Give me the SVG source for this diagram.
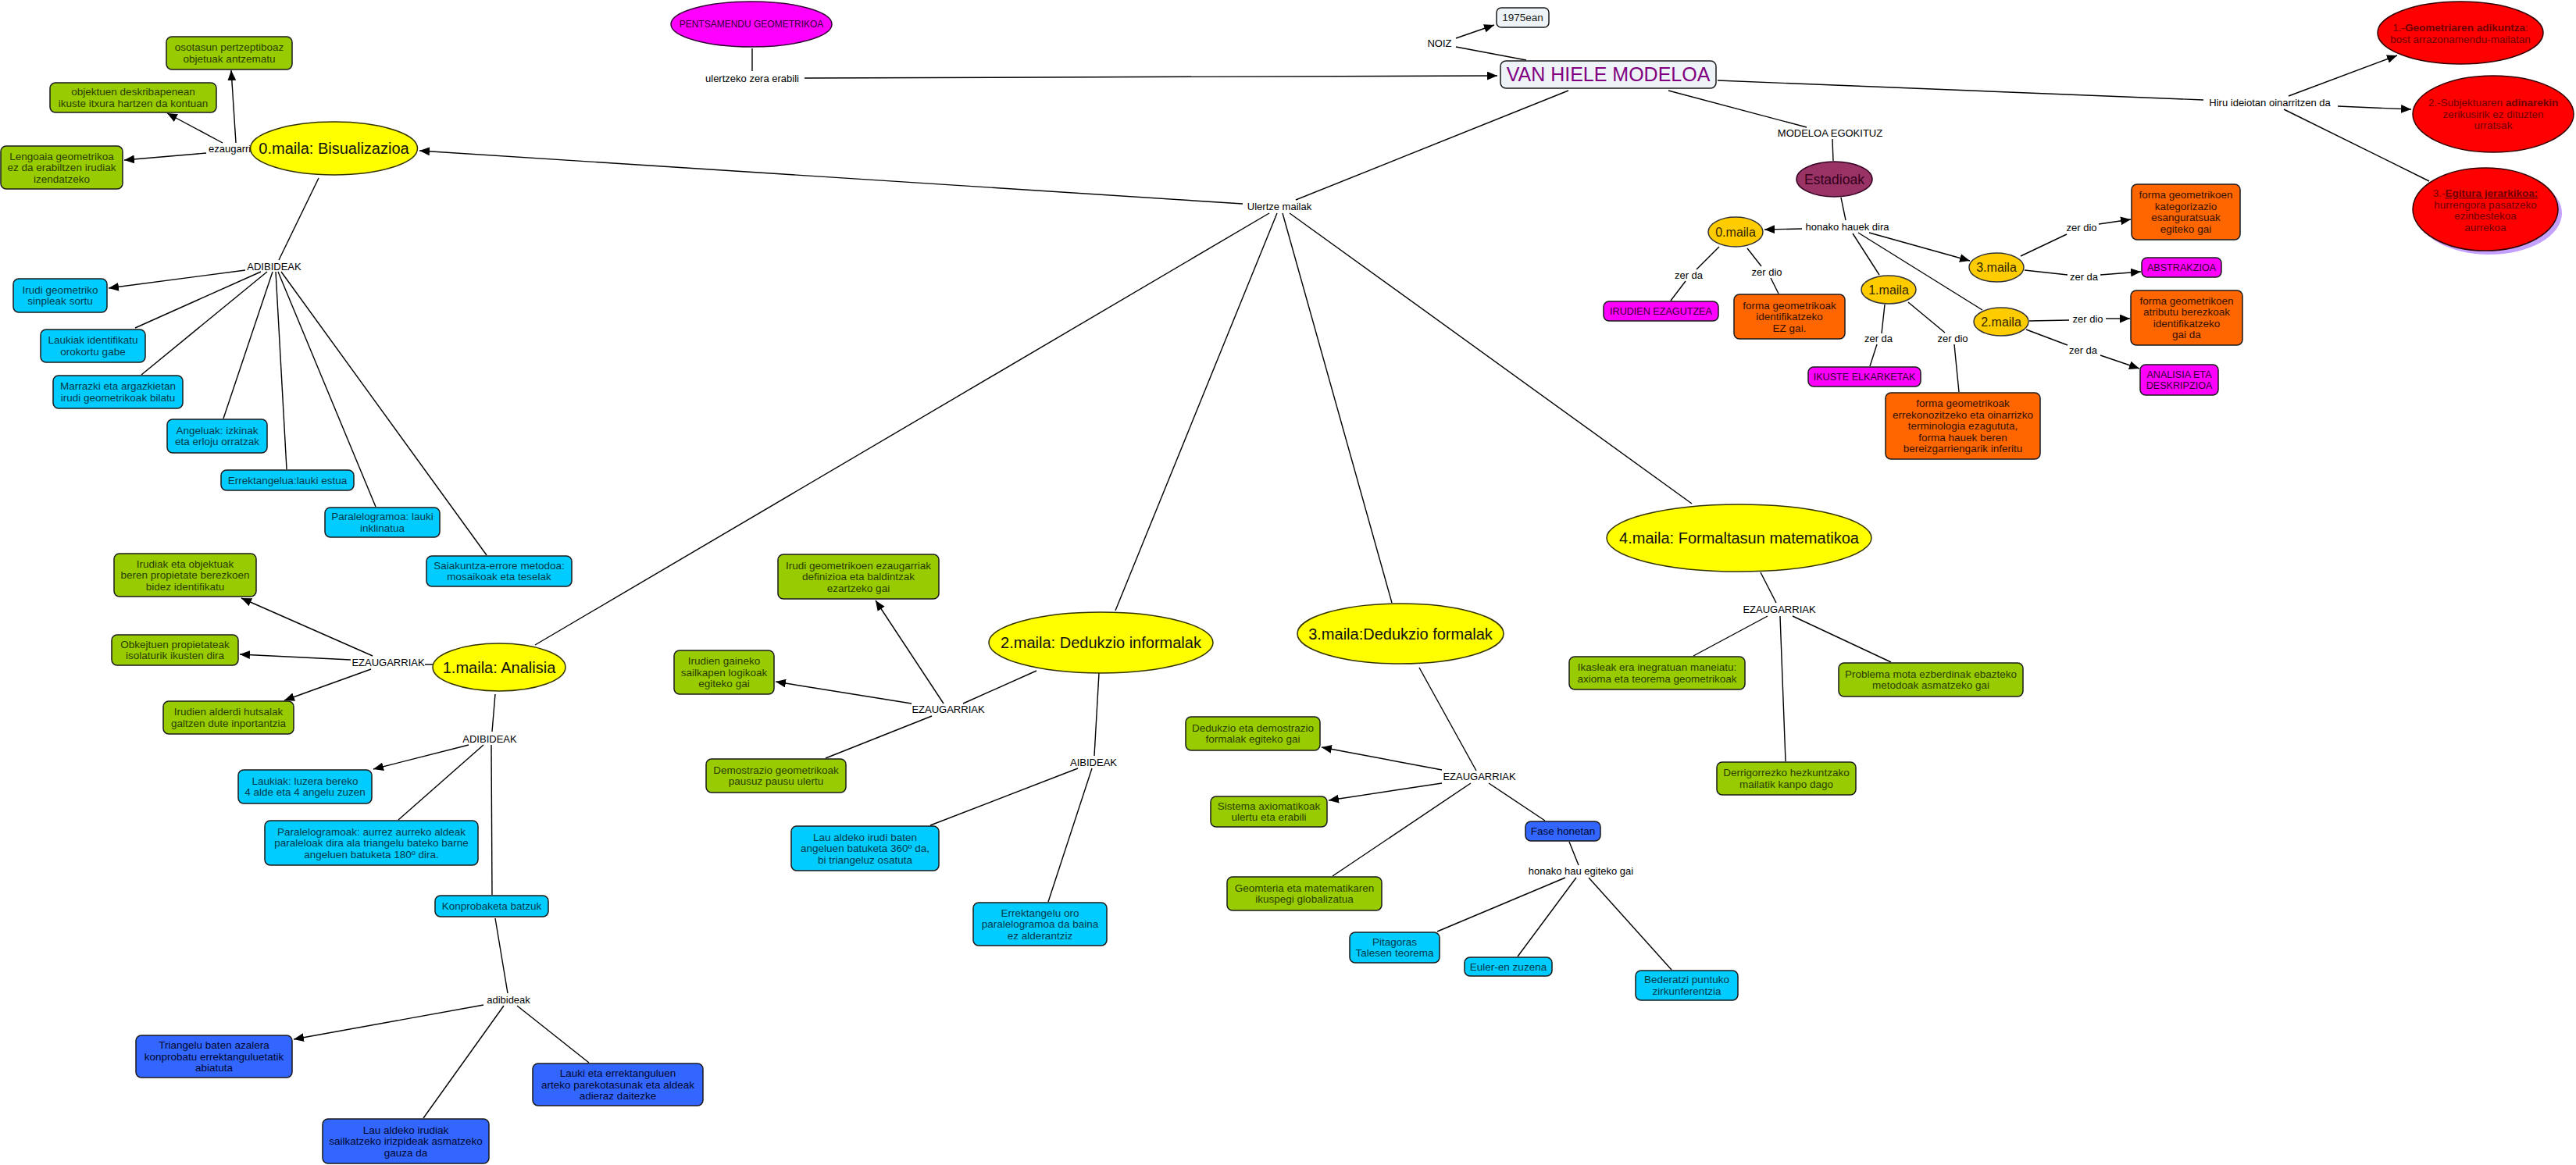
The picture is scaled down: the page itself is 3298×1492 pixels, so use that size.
<svg xmlns="http://www.w3.org/2000/svg" width="3298" height="1492" viewBox="0 0 3298 1492">
<defs>
<marker id="ah" viewBox="0 0 12 10" refX="12" refY="5" markerWidth="13" markerHeight="11" markerUnits="userSpaceOnUse" orient="auto"><path d="M0,0 L12,5 L0,10 z" fill="#000"/></marker>
<style>
text{font-family:"Liberation Sans",Arial,sans-serif;text-anchor:middle}
.cn line{stroke:#000;stroke-width:1.4;fill:none}
.cn line.a{marker-end:url(#ah)}
.lb text{font-size:13px;fill:#000}
.bx rect{rx:7;ry:7;stroke:#1a1a1a;stroke-width:1.5}
.bx text{font-size:13.5px}
.g rect{fill:#99CC00}.g text{fill:#2a3d00}
.c rect{fill:#00CCFF}.c text{fill:#003a4a}
.b rect{fill:#3366FF}.b text{fill:#00082e}
.o rect{fill:#FF6600}.o text{fill:#331100}
.m rect{fill:#FF00FF}.m text{fill:#330033;font-size:12.6px}
.y ellipse{fill:#FFFF00;stroke:#333300;stroke-width:1.5}.y text{font-size:20px;fill:#111}
.k ellipse{fill:#FFCC00;stroke:#333;stroke-width:1.5}.k text{font-size:16px;fill:#332600}
.r ellipse{fill:#FF0000;stroke:#330000;stroke-width:1.5}.r text{font-size:13.5px;fill:#6e0000}
.r ellipse.sh{fill:#C4A0FF;stroke:none}
</style>
</defs>
<rect width="3298" height="1492" fill="#fff"/>

<g id="connectors" class="cn">
<line x1="963" y1="62" x2="963" y2="91"/>
<line class="a" x1="1030" y1="100" x2="1917" y2="97"/>
<line class="a" x1="1864" y1="49" x2="1913" y2="32"/>
<line x1="1864" y1="60" x2="1954" y2="77"/>
<line x1="2008" y1="116" x2="1659" y2="256"/>
<line class="a" x1="1591" y1="261" x2="537" y2="193"/>
<line x1="1625" y1="273" x2="685" y2="826"/>
<line x1="1635" y1="273" x2="1428" y2="782"/>
<line x1="1642" y1="273" x2="1782" y2="772"/>
<line x1="1651" y1="273" x2="2166" y2="645"/>
<line x1="2199" y1="103" x2="2821" y2="128"/>
<line class="a" x1="2930" y1="123" x2="3069" y2="71"/>
<line class="a" x1="2993" y1="136" x2="3087" y2="140"/>
<line x1="2924" y1="140" x2="3110" y2="232"/>
<line x1="2136" y1="116" x2="2313" y2="163"/>
<line x1="2346" y1="178" x2="2347" y2="206"/>
<line x1="2357" y1="253" x2="2363" y2="282"/>
<line class="a" x1="2307" y1="293" x2="2259" y2="294"/>
<line x1="2372" y1="299" x2="2406" y2="352"/>
<line class="a" x1="2393" y1="298" x2="2522" y2="334"/>
<line x1="2379" y1="298" x2="2538" y2="397"/>
<line x1="2201" y1="316" x2="2172" y2="345"/>
<line x1="2158" y1="360" x2="2139" y2="385"/>
<line x1="2237" y1="318" x2="2255" y2="341"/>
<line x1="2267" y1="356" x2="2277" y2="376"/>
<line x1="2413" y1="390" x2="2409" y2="427"/>
<line x1="2403" y1="441" x2="2394" y2="469"/>
<line x1="2443" y1="387" x2="2490" y2="426"/>
<line x1="2502" y1="441" x2="2508" y2="502"/>
<line x1="2587" y1="328" x2="2646" y2="300"/>
<line class="a" x1="2687" y1="287" x2="2728" y2="281"/>
<line x1="2592" y1="346" x2="2647" y2="352"/>
<line class="a" x1="2689" y1="352" x2="2741" y2="348"/>
<line x1="2598" y1="411" x2="2649" y2="410"/>
<line class="a" x1="2696" y1="408" x2="2727" y2="408"/>
<line x1="2594" y1="422" x2="2647" y2="442"/>
<line class="a" x1="2689" y1="455" x2="2739" y2="472"/>
<line class="a" x1="302" y1="183" x2="296" y2="90"/>
<line class="a" x1="285" y1="183" x2="214" y2="145"/>
<line class="a" x1="264" y1="196" x2="159" y2="205"/>
<line x1="408" y1="228" x2="357" y2="333"/>
<line class="a" x1="314" y1="346" x2="139" y2="369"/>
<line x1="334" y1="348" x2="173" y2="420"/>
<line x1="342" y1="348" x2="181" y2="480"/>
<line x1="349" y1="348" x2="286" y2="536"/>
<line x1="353" y1="348" x2="367" y2="601"/>
<line x1="356" y1="348" x2="481" y2="649"/>
<line x1="360" y1="348" x2="623" y2="711"/>
<line class="a" x1="477" y1="840" x2="309" y2="766"/>
<line class="a" x1="449" y1="845" x2="307" y2="838"/>
<line class="a" x1="475" y1="857" x2="364" y2="897"/>
<line x1="544" y1="851" x2="554" y2="851"/>
<line x1="634" y1="889" x2="630" y2="937"/>
<line class="a" x1="600" y1="954" x2="478" y2="985"/>
<line x1="619" y1="954" x2="510" y2="1050"/>
<line x1="629" y1="954" x2="630" y2="1146"/>
<line x1="634" y1="1176" x2="650" y2="1272"/>
<line class="a" x1="619" y1="1287" x2="376" y2="1331"/>
<line x1="645" y1="1288" x2="542" y2="1432"/>
<line x1="662" y1="1288" x2="754" y2="1361"/>
<line class="a" x1="1208" y1="901" x2="1121" y2="769"/>
<line class="a" x1="1167" y1="901" x2="993" y2="873"/>
<line x1="1193" y1="917" x2="1057" y2="971"/>
<line x1="1233" y1="901" x2="1327" y2="859"/>
<line x1="1407" y1="862" x2="1401" y2="968"/>
<line x1="1380" y1="984" x2="1191" y2="1057"/>
<line x1="1398" y1="984" x2="1342" y2="1155"/>
<line x1="1817" y1="855" x2="1890" y2="987"/>
<line class="a" x1="1846" y1="986" x2="1692" y2="957"/>
<line class="a" x1="1846" y1="1003" x2="1701" y2="1025"/>
<line x1="1883" y1="1003" x2="1706" y2="1122"/>
<line x1="1906" y1="1003" x2="1978" y2="1051"/>
<line x1="2009" y1="1078" x2="2021" y2="1108"/>
<line x1="2004" y1="1124" x2="1840" y2="1193"/>
<line x1="2018" y1="1124" x2="1943" y2="1225"/>
<line x1="2034" y1="1124" x2="2140" y2="1242"/>
<line x1="2254" y1="733" x2="2274" y2="772"/>
<line x1="2263" y1="789" x2="2168" y2="840"/>
<line x1="2279" y1="789" x2="2286" y2="975"/>
<line x1="2295" y1="789" x2="2421" y2="848"/>
</g>

<g id="labels" class="lb">
<text id="lbl-ezaugarriak0" x="267" y="194.5" style="text-anchor:start">ezaugarriak</text>
<text id="lbl-adibideak0" x="351" y="345.5">ADIBIDEAK</text>
<text id="lbl-ezaugarriak1" x="497" y="852.5">EZAUGARRIAK</text>
<text id="lbl-adibideak1" x="627" y="950.5">ADIBIDEAK</text>
<text id="lbl-adibideak1b" x="651" y="1284.5">adibideak</text>
<text id="lbl-ezaugarriak2" x="1214" y="912.5">EZAUGARRIAK</text>
<text id="lbl-aibideak2" x="1400" y="980.5">AIBIDEAK</text>
<text id="lbl-ezaugarriak3" x="1894" y="998.5">EZAUGARRIAK</text>
<text id="lbl-honakohau" x="2024" y="1119.5">honako hau egiteko gai</text>
<text id="lbl-ezaugarriak4" x="2278" y="784.5">EZAUGARRIAK</text>
<text id="lbl-ulertze" x="1638" y="268.5">Ulertze mailak</text>
<text id="lbl-ulertzeko" x="963" y="104.5">ulertzeko zera erabili</text>
<text id="lbl-noiz" x="1843" y="59.5">NOIZ</text>
<text id="lbl-modeloa" x="2343" y="174.5">MODELOA EGOKITUZ</text>
<text id="lbl-honako" x="2365" y="294.5">honako hauek dira</text>
<text id="lbl-hiru" x="2906" y="135.5">Hiru ideiotan oinarritzen da</text>
<text id="lbl-zerda0" x="2162" y="356.5">zer da</text>
<text id="lbl-zerdio0" x="2262" y="352.5">zer dio</text>
<text id="lbl-zerda1" x="2405" y="437.5">zer da</text>
<text id="lbl-zerdio1" x="2500" y="437.5">zer dio</text>
<text id="lbl-zerdio3" x="2665" y="295.5">zer dio</text>
<text id="lbl-zerda3" x="2668" y="358.5">zer da</text>
<text id="lbl-zerdio2" x="2673" y="412.5">zer dio</text>
<text id="lbl-zerda2" x="2667" y="452.5">zer da</text>
</g>

<g id="nodes">
<g id="pentsamendu"><ellipse cx="962" cy="31" rx="103" ry="29" fill="#FF00FF" stroke="#330033" stroke-width="1.5"/><text x="962" y="35.2" font-size="12" fill="#330033">PENTSAMENDU GEOMETRIKOA</text></g>
<g id="vanhiele"><rect x="1921" y="78" width="276" height="35" rx="7" fill="#EEF3F7" stroke="#1a1a1a" stroke-width="1.5"/><text x="2059" y="104.3" font-size="25" fill="#800080">VAN HIELE MODELOA</text></g>
<g id="n1975"><rect x="1916" y="10" width="67" height="25" rx="6" fill="#EEF3F7" stroke="#1a1a1a" stroke-width="1.5"/><text x="1949.5" y="27.3" font-size="13.5" fill="#222">1975ean</text></g>
<g id="estadioak"><ellipse cx="2348.5" cy="229.5" rx="48.5" ry="22.5" fill="#993366" stroke="#330022" stroke-width="1.5"/><text x="2348.5" y="235.5" font-size="17.5" fill="#33001a">Estadioak</text></g>

<g id="idea1" class="r"><ellipse cx="3150" cy="42" rx="106" ry="40"/><text x="3150" y="40"><tspan>1.-</tspan><tspan font-weight="bold">Geometriaren adikuntza</tspan><tspan>:</tspan><tspan x="3150" dy="14.5">bost arrazonamendu-mailatan</tspan></text></g>
<g id="idea2" class="r"><ellipse cx="3192" cy="146" rx="103" ry="49"/><text x="3192" y="136.2"><tspan>2.-Subjektuaren </tspan><tspan font-weight="bold">adinarekin</tspan><tspan x="3192" dy="14.5">zerikusirik ez dituzten</tspan><tspan x="3192" dy="14.5">urratsak</tspan></text></g>
<g id="idea3" class="r"><ellipse class="sh" cx="3187" cy="273" rx="93" ry="53"/><ellipse cx="3182" cy="268" rx="93" ry="53"/><text x="3182" y="252"><tspan>3.-</tspan><tspan font-weight="bold" text-decoration="underline">Egitura jerarkikoa:</tspan><tspan x="3182" dy="14.5">hurrengora pasatzeko</tspan><tspan x="3182" dy="14.5">ezinbestekoa</tspan><tspan x="3182" dy="14.5">aurrekoa</tspan></text></g>

<g id="st0" class="k"><ellipse cx="2222" cy="297" rx="35" ry="19"/><text x="2222" y="302.6">0.maila</text></g>
<g id="st1" class="k"><ellipse cx="2418" cy="371" rx="35" ry="18"/><text x="2418" y="376.6">1.maila</text></g>
<g id="st3" class="k"><ellipse cx="2556" cy="342.5" rx="35" ry="18.5"/><text x="2556" y="348.1">3.maila</text></g>
<g id="st2" class="k"><ellipse cx="2562" cy="412" rx="35" ry="18"/><text x="2562" y="417.6">2.maila</text></g>

<g id="m-irudien" class="bx m"><rect x="2053" y="386" width="147" height="25"/><text x="2126.5" y="402.9">IRUDIEN EZAGUTZEA</text></g>
<g id="m-ikuste" class="bx m"><rect x="2315" y="470" width="144" height="25"/><text x="2387" y="486.9">IKUSTE ELKARKETAK</text></g>
<g id="m-abstrakzioa" class="bx m"><rect x="2742" y="330" width="102" height="25"/><text x="2793" y="346.9">ABSTRAKZIOA</text></g>
<g id="m-analisia" class="bx m"><rect x="2740" y="467" width="100" height="39"/><text x="2790" y="483.65">ANALISIA ETA<tspan x="2790" dy="14.5">DESKRIPZIOA</tspan></text></g>

<g id="o-ezgai" class="bx o"><rect x="2220" y="377" width="142" height="57"/><text x="2291" y="395.7">forma geometrikoak<tspan x="2291" dy="14.5">identifikatzeko</tspan><tspan x="2291" dy="14.5">EZ gai.</tspan></text></g>
<g id="o-errekonozitzeko" class="bx o"><rect x="2414" y="503" width="198" height="85"/><text x="2513" y="521.2">forma geometrikoak<tspan x="2513" dy="14.5">errekonozitzeko eta oinarrizko</tspan><tspan x="2513" dy="14.5">terminologia ezagututa,</tspan><tspan x="2513" dy="14.5">forma hauek beren</tspan><tspan x="2513" dy="14.5">bereizgarriengarik inferitu</tspan></text></g>
<g id="o-kategorizazio" class="bx o"><rect x="2729" y="236" width="139" height="71"/><text x="2798.5" y="254.45">forma geometrikoen<tspan x="2798.5" dy="14.5">kategorizazio</tspan><tspan x="2798.5" dy="14.5">esanguratsuak</tspan><tspan x="2798.5" dy="14.5">egiteko gai</tspan></text></g>
<g id="o-atributu" class="bx o"><rect x="2728" y="372" width="143" height="70"/><text x="2799.5" y="389.95">forma geometrikoen<tspan x="2799.5" dy="14.5">atributu berezkoak</tspan><tspan x="2799.5" dy="14.5">identifikatzeko</tspan><tspan x="2799.5" dy="14.5">gai da</tspan></text></g>

<g id="level0" class="y"><ellipse cx="427.5" cy="190" rx="107" ry="34"/><text x="427.5" y="197">0.maila: Bisualizazioa</text></g>
<g id="level1" class="y"><ellipse cx="639" cy="854.5" rx="85" ry="30.5"/><text x="639" y="861.5">1.maila: Analisia</text></g>
<g id="level2" class="y"><ellipse cx="1409.5" cy="823" rx="143.5" ry="39"/><text x="1409.5" y="830">2.maila: Dedukzio informalak</text></g>
<g id="level3" class="y"><ellipse cx="1793" cy="811.5" rx="132" ry="38.5"/><text x="1793" y="818.5">3.maila:Dedukzio formalak</text></g>
<g id="level4" class="y"><ellipse cx="2226.5" cy="689" rx="169.5" ry="43"/><text x="2226.5" y="696">4.maila: Formaltasun matematikoa</text></g>

<g id="g-osotasun" class="bx g"><rect x="213" y="47" width="161" height="42"/><text x="293.5" y="65.45">osotasun pertzeptiboaz<tspan x="293.5" dy="14.5">objetuak antzematu</tspan></text></g>
<g id="g-objektuen" class="bx g"><rect x="64" y="106" width="213" height="38"/><text x="170.5" y="122.45">objektuen deskribapenean<tspan x="170.5" dy="14.5">ikuste itxura hartzen da kontuan</tspan></text></g>
<g id="g-lengoaia" class="bx g"><rect x="1" y="187" width="156" height="55"/><text x="79" y="204.7">Lengoaia geometrikoa<tspan x="79" dy="14.5">ez da erabiltzen irudiak</tspan><tspan x="79" dy="14.5">izendatzeko</tspan></text></g>
<g id="g-irudiak" class="bx g"><rect x="146" y="709" width="182" height="55"/><text x="237" y="726.7">Irudiak eta objektuak<tspan x="237" dy="14.5">beren propietate berezkoen</tspan><tspan x="237" dy="14.5">bidez identifikatu</tspan></text></g>
<g id="g-obkejtuen" class="bx g"><rect x="143" y="813" width="162" height="39"/><text x="224" y="829.95">Obkejtuen propietateak<tspan x="224" dy="14.5">isolaturik ikusten dira</tspan></text></g>
<g id="g-alderdi" class="bx g"><rect x="209" y="898" width="167" height="42"/><text x="292.5" y="916.45">Irudien alderdi hutsalak<tspan x="292.5" dy="14.5">galtzen dute inportantzia</tspan></text></g>
<g id="g-definizioa" class="bx g"><rect x="996" y="710" width="206" height="57"/><text x="1099" y="728.7">Irudi geometrikoen ezaugarriak<tspan x="1099" dy="14.5">definizioa eta baldintzak</tspan><tspan x="1099" dy="14.5">ezartzeko gai</tspan></text></g>
<g id="g-sailkapen" class="bx g"><rect x="863" y="833" width="128" height="56"/><text x="927" y="851.2">Irudien gaineko<tspan x="927" dy="14.5">sailkapen logikoak</tspan><tspan x="927" dy="14.5">egiteko gai</tspan></text></g>
<g id="g-demostrazio" class="bx g"><rect x="904" y="972" width="179" height="43"/><text x="993.5" y="990.95">Demostrazio geometrikoak<tspan x="993.5" dy="14.5">pausuz pausu ulertu</tspan></text></g>
<g id="g-dedukzio" class="bx g"><rect x="1518" y="918" width="172" height="43"/><text x="1604" y="936.95">Dedukzio eta demostrazio<tspan x="1604" dy="14.5">formalak egiteko gai</tspan></text></g>
<g id="g-sistema" class="bx g"><rect x="1550" y="1020" width="149" height="39"/><text x="1624.5" y="1036.95">Sistema axiomatikoak<tspan x="1624.5" dy="14.5">ulertu eta erabili</tspan></text></g>
<g id="g-geomteria" class="bx g"><rect x="1571" y="1123" width="198" height="43"/><text x="1670" y="1141.95">Geomteria eta matematikaren<tspan x="1670" dy="14.5">ikuspegi globalizatua</tspan></text></g>
<g id="g-ikasleak" class="bx g"><rect x="2009" y="841" width="225" height="42"/><text x="2121.5" y="859.45">Ikasleak era inegratuan maneiatu:<tspan x="2121.5" dy="14.5">axioma eta teorema geometrikoak</tspan></text></g>
<g id="g-derrigorrezko" class="bx g"><rect x="2198" y="976" width="178" height="42"/><text x="2287" y="994.45">Derrigorrezko hezkuntzako<tspan x="2287" dy="14.5">mailatik kanpo dago</tspan></text></g>
<g id="g-problema" class="bx g"><rect x="2354" y="849" width="236" height="43"/><text x="2472" y="867.95">Problema mota ezberdinak ebazteko<tspan x="2472" dy="14.5">metodoak asmatzeko gai</tspan></text></g>

<g id="c-sinpleak" class="bx c"><rect x="17" y="357" width="120" height="43"/><text x="77" y="375.95">Irudi geometriko<tspan x="77" dy="14.5">sinpleak sortu</tspan></text></g>
<g id="c-laukiak" class="bx c"><rect x="52" y="422" width="134" height="42"/><text x="119" y="440.45">Laukiak identifikatu<tspan x="119" dy="14.5">orokortu gabe</tspan></text></g>
<g id="c-marrazki" class="bx c"><rect x="68" y="481" width="166" height="42"/><text x="151" y="499.45">Marrazki eta argazkietan<tspan x="151" dy="14.5">irudi geometrikoak bilatu</tspan></text></g>
<g id="c-angeluak" class="bx c"><rect x="214" y="537" width="128" height="43"/><text x="278" y="555.95">Angeluak: izkinak<tspan x="278" dy="14.5">eta erloju orratzak</tspan></text></g>
<g id="c-errektangelua" class="bx c"><rect x="283" y="602" width="170" height="26"/><text x="368" y="619.7">Errektangelua:lauki estua</text></g>
<g id="c-paralelogramoa" class="bx c"><rect x="416" y="650" width="147" height="38"/><text x="489.5" y="666.45">Paralelogramoa: lauki<tspan x="489.5" dy="14.5">inklinatua</tspan></text></g>
<g id="c-saiakuntza" class="bx c"><rect x="546" y="712" width="186" height="39"/><text x="639" y="728.95">Saiakuntza-errore metodoa:<tspan x="639" dy="14.5">mosaikoak eta teselak</tspan></text></g>
<g id="c-luzera" class="bx c"><rect x="305" y="986" width="171" height="43"/><text x="390.5" y="1004.95">Laukiak: luzera bereko<tspan x="390.5" dy="14.5">4 alde eta 4 angelu zuzen</tspan></text></g>
<g id="c-paralelogramoak" class="bx c"><rect x="339" y="1051" width="273" height="57"/><text x="475.5" y="1069.7">Paralelogramoak: aurrez aurreko aldeak<tspan x="475.5" dy="14.5">paraleloak dira ala triangelu bateko barne</tspan><tspan x="475.5" dy="14.5">angeluen batuketa 180º dira.</tspan></text></g>
<g id="c-konprobaketa" class="bx c"><rect x="557" y="1147" width="145" height="27"/><text x="629.5" y="1165.2">Konprobaketa batzuk</text></g>
<g id="c-360" class="bx c"><rect x="1013" y="1058" width="189" height="57"/><text x="1107.5" y="1076.7">Lau aldeko irudi baten<tspan x="1107.5" dy="14.5">angeluen batuketa 360º da,</tspan><tspan x="1107.5" dy="14.5">bi triangeluz osatuta</tspan></text></g>
<g id="c-errektangelu" class="bx c"><rect x="1246" y="1156" width="171" height="55"/><text x="1331.5" y="1173.7">Errektangelu oro<tspan x="1331.5" dy="14.5">paralelogramoa da baina</tspan><tspan x="1331.5" dy="14.5">ez alderantziz</tspan></text></g>
<g id="c-pitagoras" class="bx c"><rect x="1728" y="1194" width="115" height="39"/><text x="1785.5" y="1210.95">Pitagoras<tspan x="1785.5" dy="14.5">Talesen teorema</tspan></text></g>
<g id="c-euler" class="bx c"><rect x="1875" y="1226" width="112" height="24"/><text x="1931" y="1242.7">Euler-en zuzena</text></g>
<g id="c-bederatzi" class="bx c"><rect x="2094" y="1243" width="131" height="38"/><text x="2159.5" y="1259.45">Bederatzi puntuko<tspan x="2159.5" dy="14.5">zirkunferentzia</tspan></text></g>

<g id="b-triangelu" class="bx b"><rect x="174" y="1326" width="200" height="54"/><text x="274" y="1343.2">Triangelu baten azalera<tspan x="274" dy="14.5">konprobatu errektanguluetatik</tspan><tspan x="274" dy="14.5">abiatuta</tspan></text></g>
<g id="b-lauAldeko" class="bx b"><rect x="413" y="1433" width="213" height="57"/><text x="519.5" y="1451.7">Lau aldeko irudiak<tspan x="519.5" dy="14.5">sailkatzeko irizpideak asmatzeko</tspan><tspan x="519.5" dy="14.5">gauza da</tspan></text></g>
<g id="b-lauki" class="bx b"><rect x="682" y="1362" width="218" height="54"/><text x="791" y="1379.2">Lauki eta errektanguluen<tspan x="791" dy="14.5">arteko parekotasunak eta aldeak</tspan><tspan x="791" dy="14.5">adieraz daitezke</tspan></text></g>
<g id="b-fase" class="bx b"><rect x="1953" y="1052" width="96" height="25"/><text x="2001" y="1069.2">Fase honetan</text></g>
</g>
</svg>
